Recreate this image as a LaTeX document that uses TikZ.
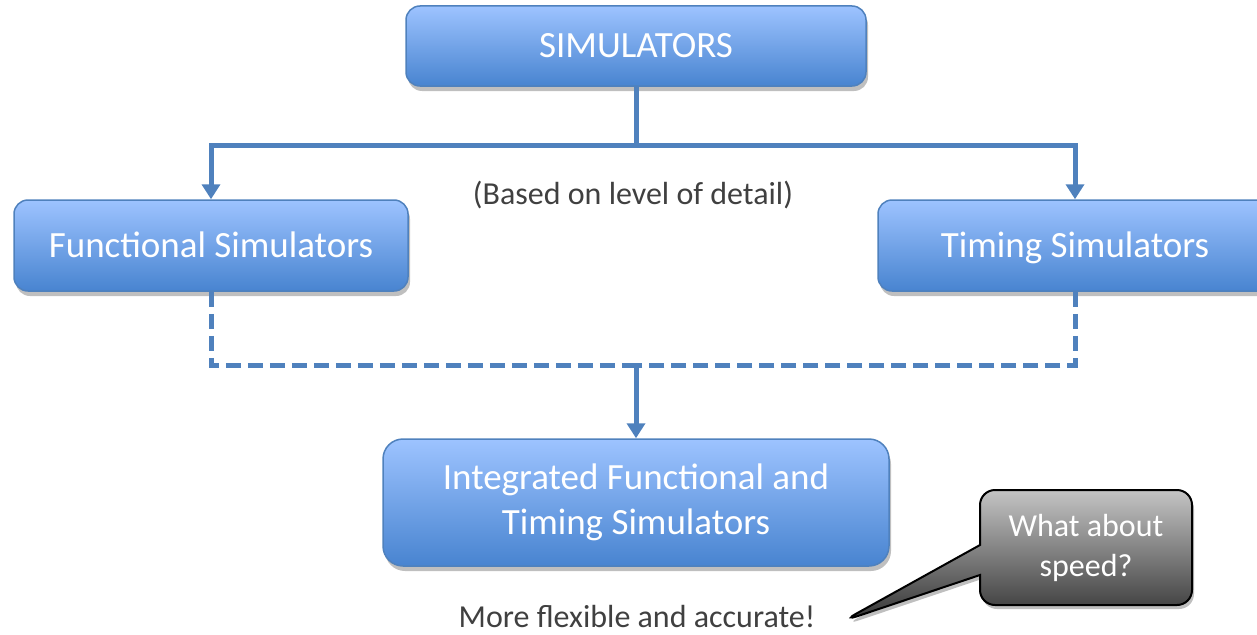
\documentclass[tikz,border=0pt]{standalone}
\usepackage{fontspec}
\setmainfont{Carlito}
\usetikzlibrary{arrows.meta,shadows,shapes.callouts}
\definecolor{boxtop}{RGB}{157,195,255}
\definecolor{boxbot}{RGB}{72,132,208}
\definecolor{boxline}{RGB}{79,129,189}
\definecolor{conncol}{RGB}{79,129,189}
\definecolor{txtgray}{RGB}{64,64,64}
\definecolor{calltop}{RGB}{196,196,196}
\definecolor{callbot}{RGB}{52,52,52}
\tikzset{
  bluebox/.style={draw=boxline, line width=1.5pt, rounded corners=14pt,
    top color=boxtop, bottom color=boxbot, text=white, inner sep=0pt,
    font=\fontsize{37}{45}\selectfont, align=center,
    drop shadow={shadow xshift=2pt, shadow yshift=-5pt, opacity=0.25, fill=black}},
  oneline/.style={text height=31pt, text depth=8pt},
  conn/.style={draw=conncol, line width=5pt},
  dconn/.style={draw=conncol, line width=5pt, dash pattern=on 15pt off 7pt},
  tip/.style={-{Triangle[width=18pt,length=15pt]}},
  grtext/.style={text=txtgray, font=\fontsize{32}{38}\selectfont, inner sep=0pt},
}
\begin{document}
\begin{tikzpicture}[x=1pt,y=-1pt]
\useasboundingbox (0,0) rectangle (1257,634);
% boxes
\node[bluebox, oneline, minimum width=460pt, minimum height=80pt] (sim) at (636,46) {SIMULATORS};
\node[bluebox, oneline, minimum width=394pt, minimum height=91pt] (func) at (211,245.5) {Functional Simulators};
\node[bluebox, oneline, minimum width=394pt, minimum height=91pt] (timing) at (1075,245.5) {Timing Simulators};
\node[bluebox, minimum width=506pt, minimum height=127pt, rounded corners=20pt] (integ) at (636,502.5) {Integrated Functional and\\Timing Simulators};
% texts
\node[grtext] (based) at (633,195) {(Based on level of detail)};
\node[grtext] (more) at (637,616) {More flexible and accurate!};
% callout
\coordinate (tipc) at (843,621);
\node[rectangle callout, callout absolute pointer={(tipc)}, callout pointer width=30pt,
  draw=black, line width=2pt, rounded corners=15pt,
  top color=calltop, bottom color=callbot, text=white,
  minimum width=212pt, minimum height=115pt, inner sep=0pt, align=center,
  font=\fontsize{32}{40}\selectfont,
  drop shadow={shadow xshift=2pt, shadow yshift=-4pt, opacity=0.25, fill=black}] (callout) at (1086,547.5) {What about\\speed?};
% connectors
\coordinate (j1) at (636,145);
\coordinate (j2) at (636,365);
\draw[conn] (sim.south) -- (j1);
\draw[conn, tip] (j1) -| (func.north);
\draw[conn, tip] (j1) -| (timing.north);
\draw[dconn] (func.south) |- (j2);
\draw[dconn] (timing.south) |- (j2);
\draw[conn, tip] (j2) -- (integ.north);
\end{tikzpicture}
\end{document}
